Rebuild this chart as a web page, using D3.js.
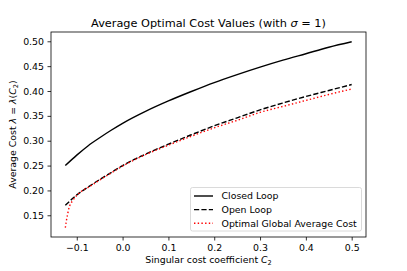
<!DOCTYPE html>
<html>
<head>
<meta charset="utf-8">
<script src="https://cdn.jsdelivr.net/npm/d3@7"></script>
<style>
  body { margin: 0; background: #fff; }
  text { font-family: "DejaVu Sans", sans-serif; fill: #000; }
</style>
</head>
<body>
<div id="chart"></div>
<script>
// values
var c2Closed = [-0.125, -0.1, -0.075, -0.05, -0.025, 0, 0.05, 0.1, 0.15, 0.2, 0.25, 0.3, 0.35, 0.4, 0.45, 0.5];
var closedLoop = [0.25, 0.271, 0.290, 0.306, 0.321, 0.335, 0.359, 0.380, 0.399, 0.417, 0.433, 0.448, 0.462, 0.475, 0.488, 0.499];

var c2Open = [-0.125, -0.1, -0.075, -0.05, -0.025, 0, 0.05, 0.1, 0.15, 0.2, 0.25, 0.3, 0.35, 0.4, 0.45, 0.5];
var openLoop = [0.170, 0.191, 0.207, 0.222, 0.236, 0.250, 0.273, 0.293, 0.312, 0.330, 0.346, 0.362, 0.376, 0.389, 0.401, 0.413];

var c2Global = [-0.125, -0.1225, -0.12, -0.1175, -0.115, -0.11, -0.1, -0.09, -0.075, -0.05, -0.025, 0, 0.05, 0.1, 0.15, 0.2, 0.25, 0.3, 0.35, 0.4, 0.45, 0.5];
var globalCost = [0.125, 0.140, 0.152, 0.163, 0.170, 0.178, 0.190, 0.198, 0.206, 0.221, 0.235, 0.249, 0.272, 0.291, 0.309, 0.326, 0.341, 0.357, 0.369, 0.381, 0.393, 0.404];

var xTicks = [-0.1, 0.0, 0.1, 0.2, 0.3, 0.4, 0.5];
var yTicks = [0.15, 0.20, 0.25, 0.30, 0.35, 0.40, 0.45, 0.50];
var legendNames = ["Closed Loop", "Open Loop", "Optimal Global Average Cost"];

var W = 407, H = 271;
var pL = 51, pR = 366, pT = 32, pB = 237;

var svg = d3.select("#chart").append("svg").attr("width", W).attr("height", H);

var x = d3.scaleLinear().domain([-0.15625, 0.53125]).range([pL, pR]);
var y = d3.scaleLinear().domain([0.1063, 0.5187]).range([pB, pT]);

var fmtMinus = function(d) { return d3.format(".1f")(d).replace("-", "\u2212"); };

var xAxis = svg.append("g").attr("transform", "translate(0," + pB + ")")
  .call(d3.axisBottom(x).tickValues(xTicks).tickSize(3.5).tickPadding(3.5).tickFormat(fmtMinus));
var yAxis = svg.append("g").attr("transform", "translate(" + pL + ",0)")
  .call(d3.axisLeft(y).tickValues(yTicks).tickSize(3.5).tickPadding(3.5).tickFormat(d3.format(".2f")));
[xAxis, yAxis].forEach(function(a) {
  a.select(".domain").remove();
  a.selectAll("line").attr("stroke", "#000").attr("stroke-width", 0.8);
  a.selectAll("text").attr("font-size", "9.4px").attr("font-family", "DejaVu Sans").attr("fill", "#000");
});

var line = d3.line().x(function(d) { return x(d[0]); }).y(function(d) { return y(d[1]); }).curve(d3.curveMonotoneX);

svg.append("path").datum(d3.zip(c2Closed, closedLoop)).attr("d", line)
  .attr("fill", "none").attr("stroke", "#000").attr("stroke-width", 1.4);
svg.append("path").datum(d3.zip(c2Open, openLoop)).attr("d", line)
  .attr("fill", "none").attr("stroke", "#000").attr("stroke-width", 1.4).attr("stroke-dasharray", "5.2,2.2");
svg.append("path").datum(d3.zip(c2Global, globalCost)).attr("d", line)
  .attr("fill", "none").attr("stroke", "#ff0000").attr("stroke-width", 1.4).attr("stroke-dasharray", "1.4,2.3");

// frame
svg.append("rect").attr("x", pL).attr("y", pT).attr("width", pR - pL).attr("height", pB - pT)
  .attr("fill", "none").attr("stroke", "#000").attr("stroke-width", 0.8);

// title
var title = svg.append("text").attr("x", (pL + pR) / 2).attr("y", 26.5)
  .attr("text-anchor", "middle").attr("font-size", "11.3px");
title.append("tspan").text("Average Optimal Cost Values (with ");
title.append("tspan").attr("font-style", "italic").text("\u03c3");
title.append("tspan").text(" = 1)");

// x label
var xl = svg.append("text").attr("x", (pL + pR) / 2).attr("y", 263)
  .attr("text-anchor", "middle").attr("font-size", "9.4px");
xl.append("tspan").text("Singular cost coefficient ");
xl.append("tspan").attr("font-style", "italic").text("C");
xl.append("tspan").attr("font-size", "6.6px").attr("dy", 2).text("2");

// y label
var yl = svg.append("text").attr("transform", "translate(16," + ((pT + pB) / 2) + ") rotate(-90)")
  .attr("text-anchor", "middle").attr("font-size", "9.4px");
yl.append("tspan").text("Average Cost ");
yl.append("tspan").attr("font-style", "italic").text("\u03bb");
yl.append("tspan").text(" = ");
yl.append("tspan").attr("font-style", "italic").text("\u03bb");
yl.append("tspan").text("(");
yl.append("tspan").attr("font-style", "italic").text("C");
yl.append("tspan").attr("font-size", "6.6px").attr("dy", 2).text("2");
yl.append("tspan").attr("dy", -2).text(")");

// legend
var lg = svg.append("g");
lg.append("rect").attr("x", 190.5).attr("y", 187.5).attr("width", 171).attr("height", 43.5)
  .attr("rx", 2).attr("fill", "#fff").attr("fill-opacity", 0.8).attr("stroke", "#d0d0d0").attr("stroke-width", 0.8);
var dashes = [null, "5.2,2.2", "1.4,2.3"];
var colors = ["#000", "#000", "#ff0000"];
legendNames.forEach(function(name, i) {
  var cy = 196 + i * 13.6;
  lg.append("line").attr("x1", 194).attr("x2", 213).attr("y1", cy).attr("y2", cy)
    .attr("stroke", colors[i]).attr("stroke-width", 1.4).attr("stroke-dasharray", dashes[i]);
  lg.append("text").attr("x", 221.5).attr("y", cy + 3.4).attr("font-size", "9.4px").text(name);
});
</script>
</body>
</html>
